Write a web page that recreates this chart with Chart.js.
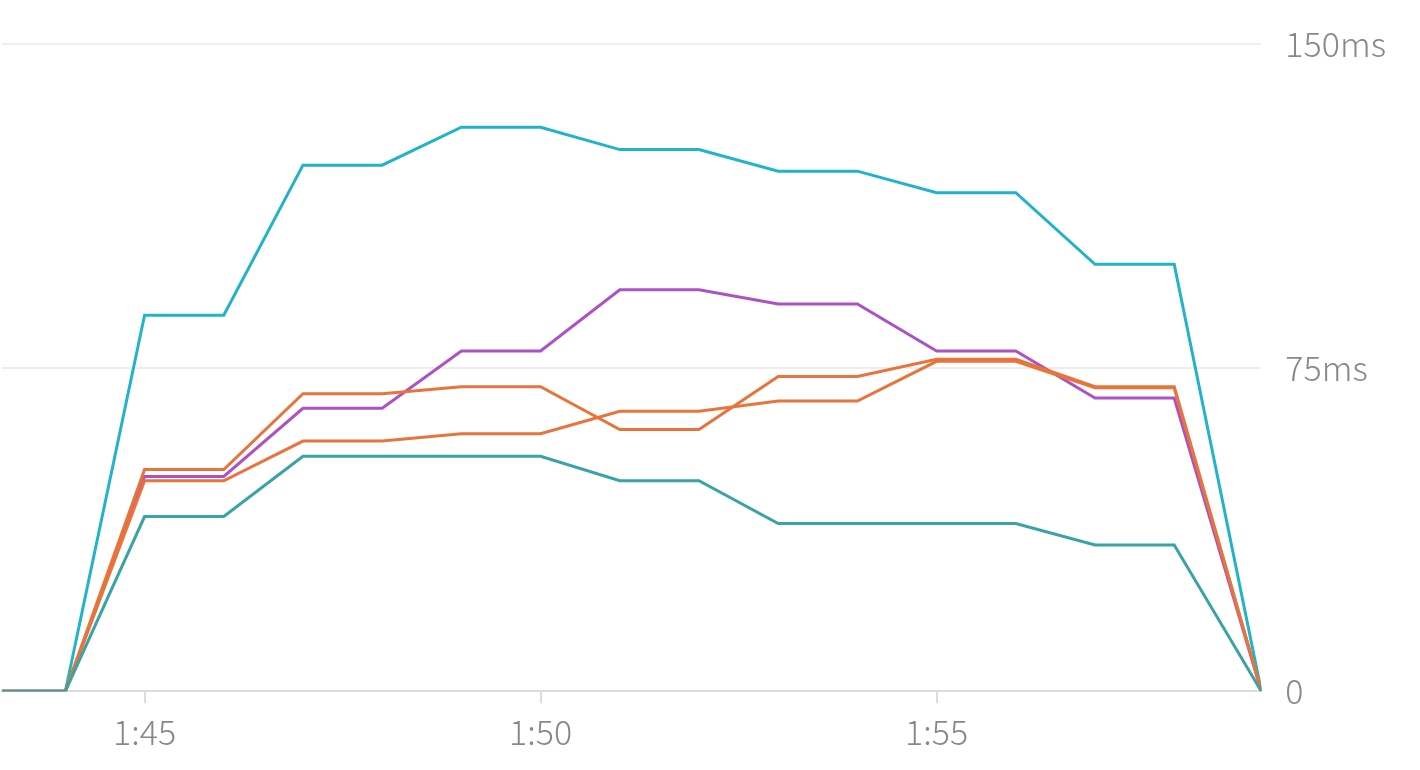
<!DOCTYPE html>
<html lang="en">
<head>
    <meta charset="UTF-8">
    <title>Latency</title>
    <script src="https://cdn.jsdelivr.net/npm/chart.js"></script>
    <style>
        html, body { margin: 0; padding: 0; background: #fff; }
    </style>
</head>
<body>
    <canvas id="chart" width="1420" height="770"></canvas>
    <script>
        // minutes past 1:00
        const minutes = [43.2, 44, 45, 46, 47, 48, 49, 50, 51, 52, 53, 54, 55, 56, 57, 58, 59.1];
        const cyanValues   = [0, 0, 87.2, 87.2, 122, 122, 130.8, 130.8, 125.6, 125.6, 120.6, 120.6, 115.6, 115.6, 99, 99, 0];
        const purpleValues = [0, 0, 49.8, 49.8, 65.6, 65.6, 78.9, 78.9, 93.1, 93.1, 89.8, 89.8, 78.9, 78.9, 68, 68, 0];
        const orangeAValues = [0, 0, 51.4, 51.4, 69, 69, 70.6, 70.6, 60.7, 60.7, 73, 73, 77, 77, 70.6, 70.6, 0];
        const orangeBValues = [0, 0, 48.8, 48.8, 58, 58, 59.7, 59.7, 64.9, 64.9, 67.3, 67.3, 76.5, 76.5, 70.4, 70.4, 0];
        const tealValues   = [0, 0, 40.5, 40.5, 54.5, 54.5, 54.5, 54.5, 48.8, 48.8, 38.9, 38.9, 38.9, 38.9, 33.9, 33.9, 0];
        const xTicks = [45, 50, 55];
        const yTicks = [0, 75, 150];

        const font = { family: '"Noto Sans CJK JP", "Noto Sans", sans-serif', size: 34, weight: 300 };

        function series(values, color) {
            return {
                data: values.map((v, i) => ({ x: minutes[i], y: v })),
                borderColor: color,
                borderWidth: 3,
                pointRadius: 0,
                fill: false,
                tension: 0
            };
        }

        new Chart(document.getElementById('chart'), {
            type: 'line',
            data: {
                datasets: [
                    series(tealValues, '#39a3a6'),
                    series(orangeBValues, '#e8743b'),
                    series(orangeAValues, '#e8743b'),
                    series(purpleValues, '#ac52c4'),
                    series(cyanValues, '#21b3c9')
                ]
            },
            options: {
                responsive: false,
                animation: false,
                layout: { padding: { top: 30, left: 2, right: 10, bottom: 10 } },
                plugins: { legend: { display: false }, tooltip: { enabled: false } },
                scales: {
                    x: {
                        type: 'linear',
                        min: 43.2,
                        max: 59.1,
                        afterBuildTicks: s => { s.ticks = xTicks.map(v => ({ value: v })); },
                        ticks: { font, color: '#888', padding: 8, maxRotation: 0,
                                 callback: v => '1:' + v },
                        grid: { drawOnChartArea: false, drawTicks: true, tickLength: 12, color: '#ddd', lineWidth: 2 },
                        border: { color: '#ddd', width: 2 }
                    },
                    y: {
                        position: 'right',
                        min: 0,
                        max: 150,
                        afterBuildTicks: s => { s.ticks = yTicks.map(v => ({ value: v })); },
                        ticks: { font, color: '#888', padding: 24,
                                 callback: v => v === 0 ? '0' : v + 'ms' },
                        grid: { color: '#eee', lineWidth: 2, drawTicks: false },
                        border: { display: false }
                    }
                }
            }
        });
    </script>
</body>
</html>
